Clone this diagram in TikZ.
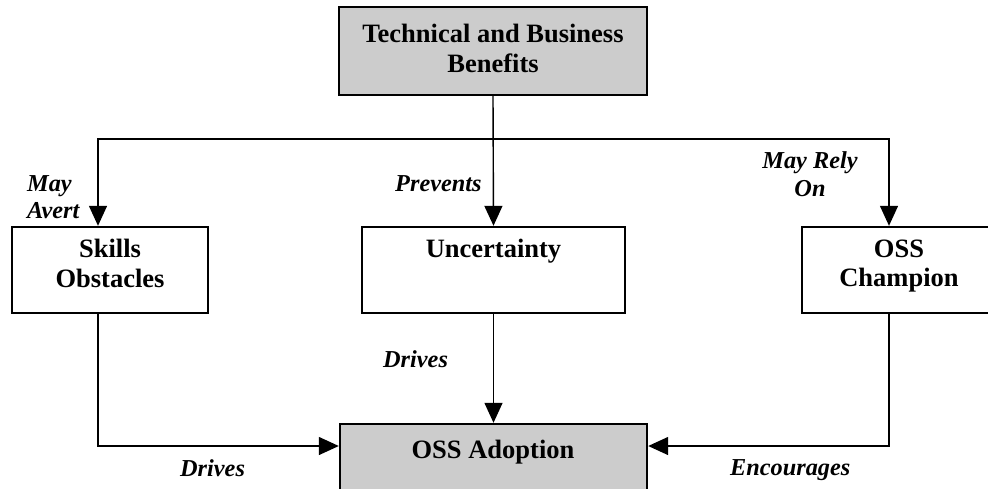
\documentclass[tikz,border=0pt]{standalone}
\usepackage{fontspec}
\setmainfont{Liberation Serif}
\usetikzlibrary{arrows.meta}
\definecolor{boxgray}{HTML}{CCCCCC}
\tikzset{
  x=1pt, y=-1pt,
  box/.style={draw=black, line width=2.4pt, rectangle, inner sep=0pt},
  shaded/.style={box, fill=boxgray},
  boxtext/.style={inner sep=0pt, align=center, anchor=north,
    font=\fontsize{26.5}{29.5}\selectfont\bfseries},
  lbl/.style={inner sep=0pt, font=\fontsize{24.3}{27.5}\selectfont\bfseries\itshape},
  arr/.style={line width=1.4pt, -{Triangle[width=18pt,length=20pt]}},
}
\begin{document}
\begin{tikzpicture}
\useasboundingbox (0,0) rectangle (988,488);
\clip (0,0) rectangle (988,488);

% boxes
\node[shaded, minimum width=308pt, minimum height=88pt] (top) at (493,51) {};
\node[box, minimum width=196pt, minimum height=86pt] (skills) at (110,270) {};
\node[box, minimum width=263pt, minimum height=86pt] (unc) at (493.5,270) {};
\node[box, minimum width=194pt, minimum height=86pt] (champ) at (899,270) {};
\node[shaded, minimum width=307pt, minimum height=90pt] (adopt) at (493.5,469) {};

% box texts
\node[boxtext] (topT) at (493,24) {Technical and Business\\Benefits};
\node[boxtext] (skillsT) at (110,239) {Skills\\Obstacles};
\node[boxtext] (uncT) at (493.5,239) {Uncertainty};
\node[boxtext] (champT) at (899,239.5) {OSS\\Champion};
\node[boxtext] (adoptT) at (493,439.5) {OSS Adoption};

% routing coordinates
\coordinate (bus) at (0,139);
\coordinate (low) at (0,446);
\coordinate (lx) at (98,0);
\coordinate (rx) at (889,0);

% connectors
\draw[arr] (top.south) -- (unc.north);
\draw[arr] (top.south |- bus) -| (lx |- skills.north);
\draw[arr] (top.south |- bus) -| (rx |- champ.north);
\draw[arr] (unc.south) -- (adopt.north);
\draw[arr] (lx |- skills.south) |- (adopt.west |- low);
\draw[arr] (rx |- champ.south) |- (adopt.east |- low);

% connector labels
\node[lbl, align=left, anchor=north west] (avert) at (27,175) {May\\Avert};
\node[lbl, anchor=base west] (prev) at (395,191) {Prevents};
\node[lbl, align=center, anchor=north] (rely) at (810,151.5) {May Rely\\On};
\node[lbl, anchor=base west] (drivesM) at (383,367) {Drives};
\node[lbl, anchor=base west] (drivesL) at (180,476) {Drives};
\node[lbl, anchor=base west] (enc) at (730,475) {Encourages};
\end{tikzpicture}
\end{document}
